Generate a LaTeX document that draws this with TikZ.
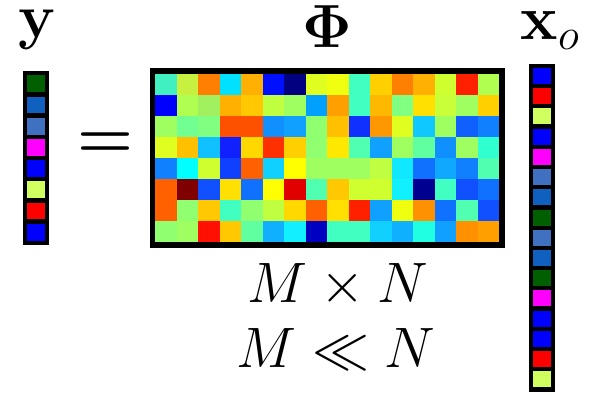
\RequirePackage{fix-cm}
\documentclass[tikz,border=0pt]{standalone}
\usepackage{tikz}
\usetikzlibrary{positioning}
\definecolor{vgreen}{HTML}{006000}
\definecolor{vmid}{HTML}{1060C0}
\definecolor{vsteel}{HTML}{4070C0}
\definecolor{vmag}{HTML}{FF00FF}
\definecolor{vblue}{HTML}{0000FF}
\definecolor{vlime}{HTML}{D0FF60}
\definecolor{vred}{HTML}{FF0000}
\tikzset{
  matframe/.style = {draw, line width=5.5pt},
  veccell/.style  = {draw, line width=4.3pt},
  bigsym/.style   = {inner sep=0pt, anchor=base},
}
\newcommand{\vecstack}[4]{%
  \foreach \col [count=\i from 0] in {#4}
    \draw[veccell, fill=\col] (#1,#2+#3*\i) rectangle ++(21.8,#3);}

\begin{document}
\begin{tikzpicture}[x=1pt,y=-1pt]
\useasboundingbox (0,0) rectangle (595,396);
\foreach \rowcols [count=\r from 0] in {
  {40F0C0,C8F040,FF8000,00E0FF,FFB000,0010FF,000080,E0FF20,F0FF10,40FFC0,FFD000,FF8000,FFB000,D0FF30,FF2000,B0FF50},
  {0000FF,B0FF50,A0F060,FFB000,FFC800,C0FF40,A0FF60,00A0FF,FFA000,40FFC0,FFB800,80FF80,FFE000,C8FF38,A0FF60,FFD000},
  {A0FF60,70FF90,80FF80,FF5000,FF5000,1090FF,10A0FF,90FF70,FFC000,1030FF,FF9800,E0FF20,10C8FF,A0FF60,1060FF,1080FF},
  {E0FF20,FFC000,10C0FF,1020FF,FFD800,FF3000,FFD000,90FF70,FFE800,50FFB0,10A0FF,A0FF60,60FFA0,1090FF,A0FF60,30FFD0},
  {1080FF,00FFFF,D0FF30,1040FF,FF6000,10D0FF,FFFF00,A0FF60,A0FF60,A0FF60,C0FF40,10E8FF,1070FF,10A8FF,1080FF,50FFB0},
  {FF6000,800000,1050FF,FFE000,1070FF,FFFF00,E00000,50FFB0,FFC800,D0FF30,D0FF30,10F0FF,000090,40FFC0,1050FF,1070FF},
  {FF6000,90FF70,FFC800,40FFC0,90FF70,C0FF40,FFD800,FF6000,FFE000,FF2000,10A0FF,F0FF10,FF9000,1070FF,50FFB0,1050FF},
  {90FF70,A0FF60,FF1000,FFC800,60FFA0,10B0FF,10F0FF,0000C0,40FFC0,40FFC0,10D0FF,10B0FF,20FFE0,10A0FF,FF9000,FFA000}}{
  \foreach \c [count=\k from 0] in \rowcols {
    \definecolor{cellc}{HTML}{\c}
    \fill[cellc] (155+21.5*\k,74+21*\r) rectangle ++(21.5,21);
  }
}
\draw[matframe] (152.5,71) rectangle (502,245);

\vecstack{25.3}{73.2}{21.2}{vgreen,vmid,vsteel,vmag,vblue,vlime,vred,vblue}
\vecstack{530.9}{65.9}{20.22}{vblue,vred,vlime,vblue,vmag,vsteel,vmid,vgreen,vsteel,vmid,vgreen,vmag,vblue,vblue,vred,vlime}

\node[bigsym, font=\fontsize{62}{66}\selectfont] (ylab) at (37.5,38) {$\mathbf{y}$};
\node[bigsym, font=\fontsize{61}{66}\selectfont] (philab) at (327.5,48) {$\mathbf{\Phi}$};
\node[bigsym, font=\fontsize{63}{66}\selectfont] (xlab) at (550,40) {$\mathbf{x}_o$};
\node[bigsym, font=\fontsize{64}{70}\selectfont\bfseries] (eq) at (105.7,157.5) {=};
\node[bigsym, font=\fontsize{57}{65}\selectfont] (dims) at (338,302) {$M\times N$};
\node[bigsym, font=\fontsize{57}{65}\selectfont] (ratio) at (336,367) {$M\ll N$};
\end{tikzpicture}
\end{document}
